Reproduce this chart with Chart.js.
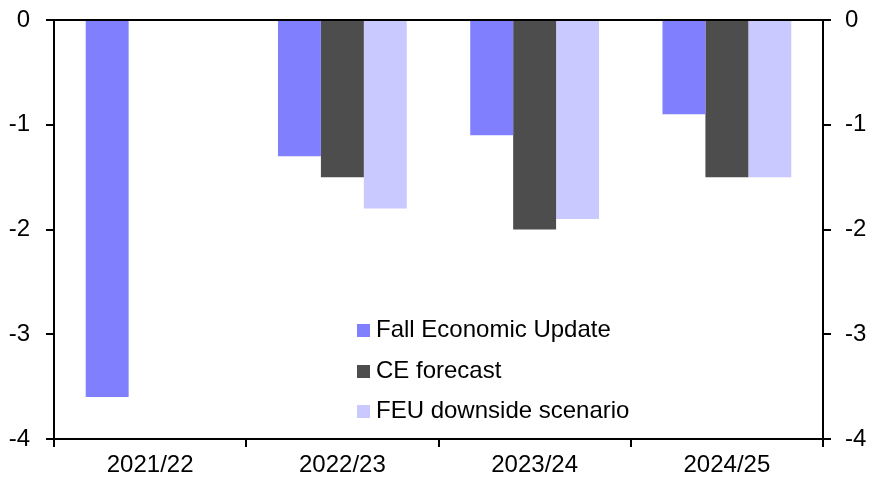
<!DOCTYPE html>
<html>
<head>
<meta charset="utf-8">
<script src="https://cdn.jsdelivr.net/npm/chart.js@4/dist/chart.umd.min.js"></script>
<style>
  html, body { margin: 0; padding: 0; background: #fff; }
  #wrap { position: relative; width: 880px; height: 486px; }
  #legend { position: absolute; left: 357px; top: 309px; font-family: "Liberation Sans", Arial, sans-serif; font-size: 24px; color: #000; }
  #legend div { height: 40.5px; line-height: 40px; white-space: nowrap; }
  #legend span { display: inline-block; width: 13px; height: 13px; margin-right: 6px; vertical-align: 0px; }
</style>
</head>
<body>
<div id="wrap">
  <canvas id="chart" width="880" height="486"></canvas>
  <div id="legend"></div>
</div>
<script>
const years = ['2021/22', '2022/23', '2023/24', '2024/25'];
const feu = [-3.6, -1.3, -1.1, -0.9];
const ceForecast = [null, -1.5, -2.0, -1.5];
const feuDownside = [null, -1.8, -1.9, -1.5];
const yTicks = [0, -1, -2, -3, -4];

const seriesNames = ['Fall Economic Update', 'CE forecast', 'FEU downside scenario'];
const colours = ['#8080ff', '#4d4d4d', '#c9c9ff'];

const font = { family: '"Liberation Sans", Arial, sans-serif', size: 24 };

// legend drawn as html so the text stays text
const legend = document.getElementById('legend');
seriesNames.forEach((name, i) => {
    const row = document.createElement('div');
    row.innerHTML = '<span style="background:' + colours[i] + '"></span>' + name;
    legend.appendChild(row);
});

function yAxis(position, width, padding) {
    return {
        position: position,
        min: -4,
        max: 0,
        afterBuildTicks: axis => { axis.ticks = yTicks.map(v => ({ value: v })); },
        afterFit: axis => {
            axis.width = width;
            // don't let the tick labels push the plot area around
            axis.paddingTop = 0;
            axis.paddingBottom = 0;
        },
        border: { color: '#000', width: 2 },
        grid: {
            drawOnChartArea: position === 'left',
            color: ctx => (ctx.tick && ctx.tick.value === 0) ? '#000' : 'rgba(0,0,0,0)',
            lineWidth: 2,
            tickColor: '#000',
            tickLength: 8
        },
        ticks: { color: '#000', font: font, padding: padding }
    };
}

new Chart(document.getElementById('chart'), {
    type: 'bar',
    data: {
        labels: years,
        datasets: [
            { label: seriesNames[0], data: feu, backgroundColor: colours[0] },
            { label: seriesNames[1], data: ceForecast, backgroundColor: colours[1] },
            { label: seriesNames[2], data: feuDownside, backgroundColor: colours[2] }
        ]
    },
    options: {
        responsive: false,
        animation: false,
        layout: { padding: { top: 20, left: 0, right: 0, bottom: 0 } },
        plugins: { legend: { display: false }, tooltip: { enabled: false } },
        datasets: { bar: { barPercentage: 1, categoryPercentage: 0.67 } },
        scales: {
            x: {
                afterFit: axis => { axis.height = 47; },
                border: { color: '#000', width: 2 },
                grid: { offset: true, drawOnChartArea: false, tickColor: '#000', tickLength: 8, lineWidth: 2 },
                ticks: { color: '#000', font: font, padding: 4 }
            },
            y: yAxis('left', 54, 16),
            y2: yAxis('right', 57, 14)
        }
    }
});
</script>
</body>
</html>
